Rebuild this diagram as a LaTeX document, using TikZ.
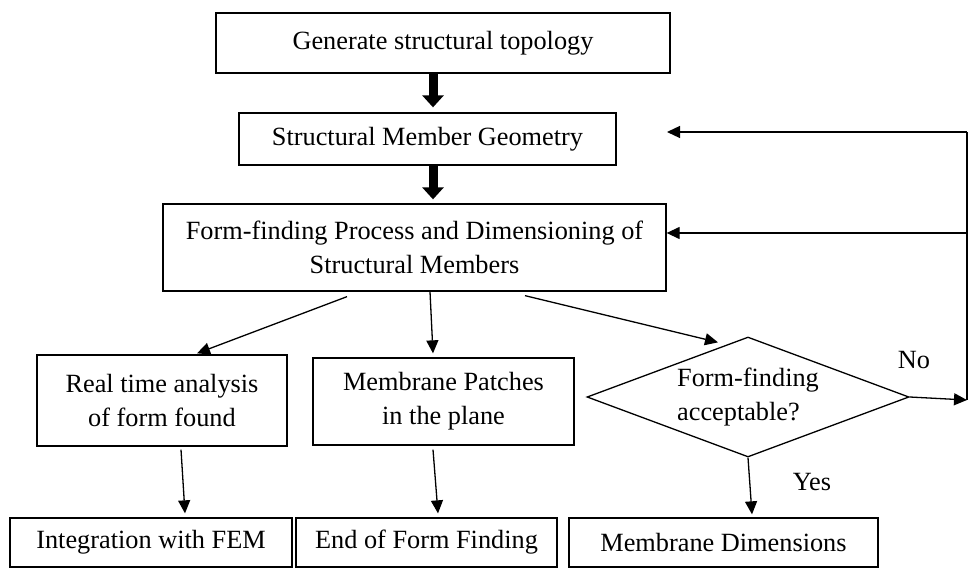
\documentclass[tikz,border=0pt]{standalone}
\usepackage{fontspec}
\setmainfont{Liberation Serif}
\usetikzlibrary{shapes.geometric, arrows.meta, positioning, calc}

\begin{document}
\begin{tikzpicture}[
    x=1pt, y=-1pt,
    box/.style={rectangle, draw=black, line width=1.3pt, inner sep=0pt, align=center, font=\fontsize{26.3}{34}\selectfont},
    decision/.style={diamond, draw=black, line width=1.3pt, inner sep=0pt, aspect=2.67, minimum width=322pt, minimum height=120pt, align=left, font=\fontsize{26.3}{34}\selectfont},
    arrow/.style={-{Triangle[width=12pt,length=13pt]}, line width=1.3pt},
    bigarrow/.style={-{Triangle[width=21pt,length=12pt]}, line width=9pt},
    lbl/.style={font=\fontsize{26.3}{34}\selectfont, inner sep=0pt}
]
\useasboundingbox (0,0) rectangle (971,569);
\node (topo) [box, minimum width=454, minimum height=60] at (443,43) {Generate structural topology};
\node (geom) [box, minimum width=377, minimum height=52] at (427.5,139) {Structural Member Geometry};
\node (formfind) [box, minimum width=503, minimum height=87] at (414.5,247.5) {Form-finding Process and Dimensioning of\\Structural Members};
\node (realtime) [box, minimum width=250, minimum height=91] at (162,400.5) {Real time analysis\\of form found};
\node (patches) [box, minimum width=261, minimum height=87] at (443.5,401.5) {Membrane Patches\\in the plane};
\node (accept) [decision] at (748,397) {Form-finding\\acceptable?};
\node (integ) [box, minimum width=282, minimum height=49] at (151,542.5) {Integration with FEM};
\node (endff) [box, minimum width=261, minimum height=49] at (426.5,542.5) {End of Form Finding};
\node (dims) [box, minimum width=309, minimum height=49] at (723.5,542.5) {Membrane Dimensions};
\node (no) [lbl] at (914,360) {No};
\node (yes) [lbl] at (812,482) {Yes};
% feedback loop
\coordinate (loopb) at (967,400);
\coordinate (loopm) at (967,233);
\coordinate (loopt) at (967,132);
\coordinate (geomin) at (667,132);
\draw [bigarrow] ($(topo.south)+(-10,0)$) -- ($(geom.north)+(5.5,-5)$);
\draw [bigarrow] ($(geom.south)+(5.5,0)$) -- ($(formfind.north)+(18.5,-4)$);
\draw [arrow] ($(formfind.south)+(-67.5,5)$) -- ($(realtime.north)+(35,-1)$);
\draw [arrow] ($(formfind.south)+(15.5,0)$) -- ($(patches.north)+(-10.5,-4)$);
\draw [arrow] ($(formfind.south)+(110.5,4)$) -- ($(accept.north)+(-30,6)$);
\draw [arrow] ($(realtime.south)+(19,3)$) -- ($(integ.north)+(34,-4)$);
\draw [arrow] ($(patches.south)+(-10.5,4)$) -- ($(endff.north)+(11.5,-4)$);
\draw [arrow] (accept.south) -- ($(dims.north)+(28.5,-3)$);
\draw [arrow] (accept.east) -- (loopb);
\draw [line width=1.3pt] (loopb) -- (loopt);
\draw [arrow] (loopt) -- (geomin);
\draw [arrow] (loopm) -- (loopm -| formfind.east);
\end{tikzpicture}
\end{document}
